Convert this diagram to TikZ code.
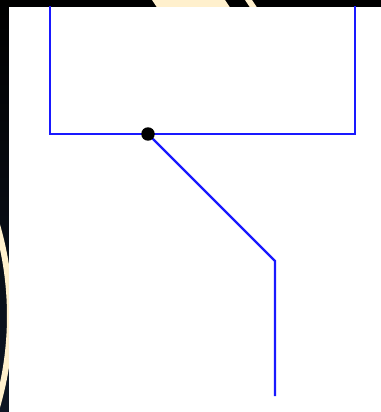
\documentclass[tikz,border=0pt]{standalone}
\usetikzlibrary{calc}
\definecolor{cream}{RGB}{255,240,205}
\definecolor{night}{RGB}{14,22,36}
\definecolor{wire}{RGB}{25,25,255}

\begin{document}
\begin{tikzpicture}[x=0.02cm,y=-0.02cm,
    wire/.style={draw=wire,line width=1.4pt,line join=miter},
    junction/.style={circle,fill=black,inner sep=0pt,minimum size=0.27cm}]
  \useasboundingbox (0,0) rectangle (381,412);
  % dark backdrop with the cream bands
  \shade[top color=black,bottom color=night] (0,0) rectangle (381,412);
  \fill[cream] (152,0) -- (225,0) -- (231,9) -- (158,9) -- cycle;
  \fill[cream] (245,0) -- (252,0) -- (258,9) -- (251,9) -- cycle;
  \draw[cream,line width=0.12cm,domain=-20:20,samples=60,variable=\t]
    plot ({-316+326*cos(\t)},{316+326*sin(\t)});
  % white panel
  \fill[white] (9,7) rectangle (381,412);
  % wiring, clipped to the panel
  \begin{scope}
    \clip (9,7) rectangle (381,412);
    \coordinate (boxNW) at (50,-20);
    \coordinate (boxSW) at (50,134);
    \coordinate (boxSE) at (355,134);
    \coordinate (boxNE) at (355,-20);
    \coordinate (tap) at (148,134);
    \coordinate (knee) at (275,261);
    \coordinate (lead) at (275,396);
    \draw[wire] (boxNW) -- (boxSW) -- (boxSE) -- (boxNE);
    \draw[wire] (tap) -- (knee) -- (lead);
    \node[junction] (dot) at (tap) {};
  \end{scope}
\end{tikzpicture}
\end{document}
